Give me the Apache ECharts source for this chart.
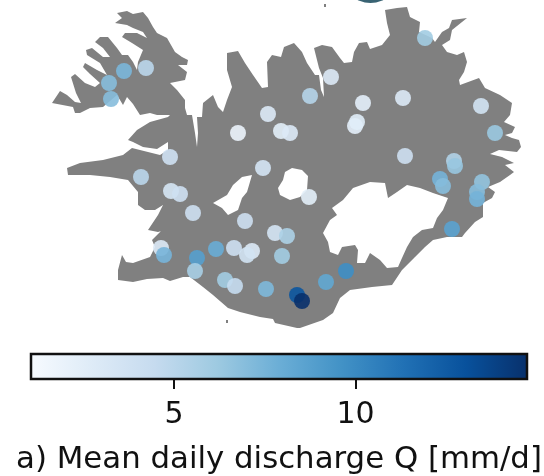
<!DOCTYPE html>
<html>
<head>
<meta charset="utf-8">
<title>Mean daily discharge</title>
<script src="https://cdn.jsdelivr.net/npm/echarts@6/dist/echarts.min.js"></script>
<style>
  html, body { margin: 0; padding: 0; background: #fff; }
  #chart { width: 544px; height: 476px; }
  /* the original is an upscaled raster, slightly soft */
  #chart canvas { filter: blur(0.5px); }
</style>
</head>
<body>
<div id="chart"></div>
<script>
// map coordinates
var landOutline = [
  [52,103],[60,91],[67,95],[75,102],[81,103],[76,93],[71,77],[75,74],[85,83],[95,87],[100,83],[90,74],[83,67],[85,63],[97,70],[107,75],[100,63],[87,55],[86,50],[92,48],[103,57],[110,57],[103,48],[95,42],[100,37],[108,37],[117,48],[122,55],[128,55],[133,62],[137,70],[138,62],[143,50],[132,43],[122,37],[125,33],[137,33],[147,38],[143,32],[133,28],[127,25],[115,23],[122,18],[117,13],[127,11],[133,14],[143,12],[148,18],[153,27],[157,33],[167,38],[175,52],[182,57],[188,60],[187,65],[178,65],[187,72],[185,80],[170,83],[177,90],[185,100],[185,108],[187,115],[192,115],[195,133],[197,147],[198,133],[197,117],[202,117],[203,103],[213,95],[218,107],[223,112],[227,100],[232,87],[227,70],[227,53],[238,51],[245,63],[253,75],[262,88],[268,87],[267,62],[272,55],
  [281,57],[284,47],[294,43],[302,52],[307,63],[315,75],[319,75],[321,90],[324,97],[323,78],[319,68],[314,48],[322,45],[332,47],[340,58],[344,63],[352,62],[354,52],[359,43],[367,42],[370,49],[382,45],[390,35],[387,23],[385,10],[397,8],[407,7],[410,17],[420,22],[419,32],[432,38],[435,42],[442,32],[449,28],[452,20],[467,18],[452,30],[450,40],[442,45],[447,52],[457,55],[464,52],[467,62],[464,72],[459,80],[460,85],[479,78],[485,88],[500,95],[512,103],[510,115],[504,122],[515,127],[512,133],[505,135],[512,138],[519,140],[521,147],[517,152],[499,150],[490,154],[502,157],[514,163],[505,165],[514,172],
  [510,175],[500,182],[488,187],[495,192],[492,198],[483,203],[483,217],[475,222],[465,233],[462,237],[447,237],[433,240],[425,247],[415,257],[402,270],[392,285],[372,287],[350,290],[340,298],[333,313],[323,320],[300,328],
  [297,328],[275,323],[273,319],[260,317],[240,312],[228,308],[213,295],[203,287],[190,277],[183,277],[170,281],[163,278],[147,279],[133,282],[118,280],[118,270],[122,255],[126,262],[133,263],[150,257],[155,247],[152,240],[162,230],[170,225],[180,226],[168,229],[158,232],[148,230],[158,215],[163,205],[155,210],[145,210],[138,205],[138,192],[128,180],[110,177],[90,175],[68,175],
  [67,168],[80,163],[103,160],[123,155],[132,148],[160,155],[168,150],[168,142],[157,149],[143,147],[133,142],[128,140],[137,130],[150,122],[168,117],[170,115],[157,115],[150,113],[140,115],[133,104],[127,97],[123,105],[117,95],[103,107],[90,108],[80,113],[75,113],[73,107]
];
var smallIslands = [
  [[324,4],[326,4],[326,7],[324,7]],
  [[226,320],[228,320],[228,323],[226,323]]
];
var vatnajokull = [
  [323,233],[330,220],[337,215],[332,208],[343,200],[353,188],[370,182],[385,183],[388,198],[397,192],[407,185],[420,188],[433,193],[448,198],[443,210],[437,218],[433,228],[422,230],[413,237],[407,247],[402,258],[398,267],[387,268],[380,260],[370,253],[365,263],[357,263],[358,250],[355,245],[342,247],[338,255],[330,252],[328,242]
];
var hofsjokull = [
  [285,172],[292,168],[302,170],[308,176],[307,190],[300,197],[290,200],[280,195],[278,188],[283,180]
];
var langjokull = [
  [213,203],[227,195],[233,185],[242,177],[252,175],[247,192],[242,198],[238,210],[228,215],[222,208]
];

// discharge gauges: position on the map and mean daily Q [mm/d]
var stationX = [124,146,109,111,238,268,170,263,141,331,425,310,363,403,481,495,355,357,281,290,405,454,455,440,443,482,477,477,452,309,346,326,171,180,193,245,275,287,234,252,247,216,197,161,164,282,195,225,235,266,297,302];
var stationY = [71,68,83,99,133,114,157,168,177,77,38,96,103,98,106,133,126,122,131,133,156,161,166,179,186,182,192,199,229,197,271,282,191,194,213,221,233,236,248,251,255,249,258,248,255,256,271,280,286,289,295,301];
var stationQ = [7.4,5.0,7.0,7.0,1.9,3.0,3.9,3.5,5.0,3.0,6.0,5.2,2.4,3.0,3.6,6.3,2.4,2.6,2.5,3.0,4.0,5.4,6.4,7.6,7.0,6.6,7.0,7.6,8.6,2.5,9.8,8.3,3.4,3.9,4.0,4.0,3.5,5.6,4.0,3.0,3.6,8.0,8.8,3.0,7.5,6.0,5.8,6.0,4.5,7.3,12.8,14.7];

// edge of the panel above, cut off by the top of the picture
var croppedMark = [[370.5,-26]];

var barMin = 1.06;
var barMax = 14.72;
var barTicks = [5, 10];
var barName = "a) Mean daily discharge Q [mm/d]";
var blues = ["#f7fbff","#deebf7","#c6dbef","#9ecae1","#6baed6","#4292c6","#2171b5","#08519c","#08306b"];

var myChart = echarts.init(document.getElementById("chart"), null, { renderer: "canvas" });

function polygonItem(shapes, fill) {
  return {
    type: "custom",
    coordinateSystem: "cartesian2d",
    xAxisIndex: 0,
    yAxisIndex: 0,
    silent: true,
    clip: false,
    data: shapes.map(function (s, i) { return [i]; }),
    renderItem: function (params, api) {
      var pts = shapes[params.dataIndex].map(function (p) { return api.coord(p); });
      return { type: "polygon", shape: { points: pts }, style: { fill: fill } };
    },
  };
}

var option = {
  animation: false,
  backgroundColor: "#fff",
  textStyle: { fontFamily: "DejaVu Sans" },
  grid: [
    { left: 0, top: 0, width: 544, height: 476, outerBoundsMode: "none" },
    { left: 31, top: 354, width: 496, height: 25, outerBoundsMode: "none" },
  ],
  xAxis: [
    { type: "value", gridIndex: 0, min: 0, max: 544, show: false },
    {
      type: "value",
      gridIndex: 1,
      min: barMin,
      max: barMax,
      splitLine: { show: false },
      axisLine: { show: false },
      axisTick: { length: 10, lineStyle: { color: "#111", width: 2 }, customValues: barTicks },
      axisLabel: { fontSize: 30, color: "#111", margin: 21, customValues: barTicks },
      name: barName,
      nameLocation: "middle",
      nameGap: 65,
      nameTextStyle: { fontSize: 30.8, color: "#111" },
    },
  ],
  yAxis: [
    { type: "value", gridIndex: 0, min: 0, max: 476, inverse: true, show: false },
    { type: "value", gridIndex: 1, min: 0, max: 1, show: false },
  ],
  visualMap: {
    show: false,
    seriesIndex: 4,
    dimension: 2,
    min: barMin,
    max: barMax,
    inRange: { color: blues },
  },
  series: [
    polygonItem([landOutline].concat(smallIslands), "#808080"),
    polygonItem([vatnajokull, hofsjokull, langjokull], "#fff"),
    {
      type: "scatter",
      xAxisIndex: 0,
      yAxisIndex: 0,
      clip: false,
      silent: true,
      data: croppedMark,
      symbolSize: 58,
      itemStyle: { color: "#083c50" },
    },
    {
      // colour bar
      type: "custom",
      xAxisIndex: 1,
      yAxisIndex: 1,
      silent: true,
      clip: false,
      data: [[barMin, barMax]],
      renderItem: function (params, api) {
        var a = api.coord([api.value(0), 1]);
        var b = api.coord([api.value(1), 0]);
        return {
          type: "rect",
          shape: { x: a[0], y: a[1], width: b[0] - a[0], height: b[1] - a[1] },
          style: {
            fill: new echarts.graphic.LinearGradient(0, 0, 1, 0, blues.map(function (c, i) {
              return { offset: i / (blues.length - 1), color: c };
            })),
            stroke: "#111",
            lineWidth: 2.5,
          },
        };
      },
    },
    {
      type: "scatter",
      xAxisIndex: 0,
      yAxisIndex: 0,
      silent: true,
      symbolSize: 16,
      itemStyle: { opacity: 0.9 },
      data: stationX.map(function (x, i) { return [x, stationY[i], stationQ[i]]; }),
    },
  ],
};

option && myChart.setOption(option);
</script>
</body>
</html>
